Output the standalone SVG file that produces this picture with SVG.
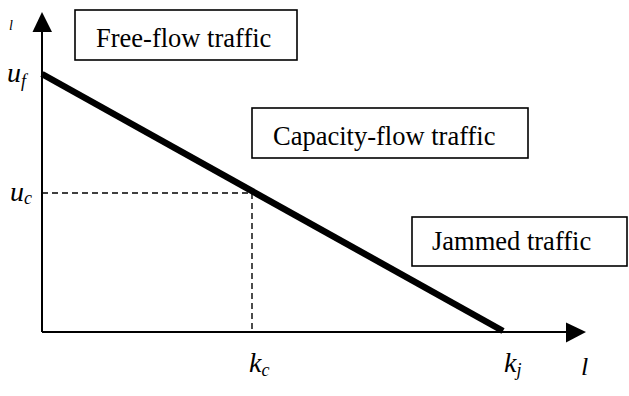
<svg xmlns="http://www.w3.org/2000/svg" width="629" height="396" viewBox="0 0 629 396">
<style>
.box{fill:#fff;stroke:#000;stroke-width:1.6}
.t{font-family:'Liberation Serif','Times New Roman',serif;font-size:26.5px;fill:#000}
.it{font-family:'Liberation Serif','Times New Roman',serif;font-style:italic;fill:#000}
.ax{stroke:#000;stroke-width:2;fill:none}
.dash{stroke:#000;stroke-width:1.4;stroke-dasharray:6 4;fill:none}
</style>
<rect width="629" height="396" fill="#fff"/>
<g id="connectors">
<line class="ax" x1="42" y1="332" x2="42" y2="30"/>
<polygon points="42,12 32.5,32 52,32" fill="#000"/>
<line class="ax" x1="42" y1="332" x2="567" y2="332"/>
<polygon points="586,332 566,322.5 566,342.5" fill="#000"/>
<line class="dash" x1="42" y1="193" x2="252" y2="193"/>
<line class="dash" x1="252" y1="193" x2="252" y2="332"/>
<line x1="42" y1="74" x2="503" y2="331" stroke="#000" stroke-width="6.5"/>
</g>
<g id="free-flow">
<rect class="box" x="75" y="10" width="222" height="50"/>
<text class="t" x="96" y="47">Free-flow traffic</text>
</g>
<g id="capacity-flow">
<rect class="box" x="252" y="108" width="276" height="50"/>
<text class="t" x="273" y="145">Capacity-flow traffic</text>
</g>
<g id="jammed">
<rect class="box" x="412" y="217" width="215" height="49"/>
<text class="t" x="432" y="250">Jammed traffic</text>
</g>
<g id="labels">
<text class="it" x="9" y="30" font-size="14">l</text>
<text class="it" x="7" y="82" font-size="28">u<tspan font-size="18" dy="5">f</tspan></text>
<text class="it" x="10" y="201" font-size="28">u<tspan font-size="18" dy="3">c</tspan></text>
<text class="it" x="249" y="372" font-size="28">k<tspan font-size="18" dy="4">c</tspan></text>
<text class="it" x="504" y="372" font-size="28">k<tspan font-size="18" dy="4">j</tspan></text>
<text class="it" x="581" y="375" font-size="26">l</text>
</g>
</svg>
